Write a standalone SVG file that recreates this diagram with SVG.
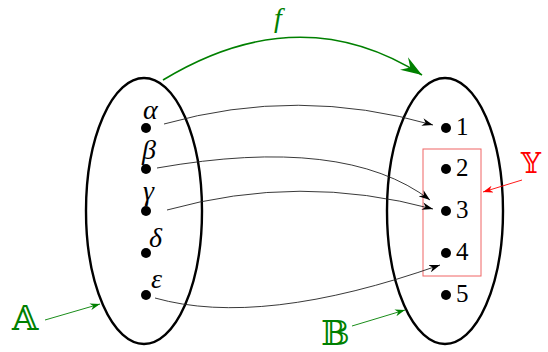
<svg xmlns="http://www.w3.org/2000/svg" width="548" height="352" viewBox="0 0 548 352">
<style>
.set{fill:none;stroke:#000;stroke-width:2.4}
.dot{fill:#000}
.map{fill:none;stroke:#222;stroke-width:0.9}
.g{fill:none;stroke:#008000}
.bb{font-family:'DejaVu Serif','DejaVu Sans',serif}
</style>
<defs>
<marker id="ah" viewBox="0 0 10 7" refX="10" refY="3.5" markerWidth="11" markerHeight="8" markerUnits="userSpaceOnUse" orient="auto">
<path d="M0,0 L10,3.5 L0,7 L3,3.5 z" fill="#000"/>
</marker>
<marker id="ahg" viewBox="0 0 10 7" refX="10" refY="3.5" markerWidth="22" markerHeight="15" markerUnits="userSpaceOnUse" orient="auto">
<path d="M0,0 L10,3.5 L0,7 L3.5,3.5 z" fill="#008000"/>
</marker>
<marker id="ahs" viewBox="0 0 10 7" refX="10" refY="3.5" markerWidth="10" markerHeight="7" markerUnits="userSpaceOnUse" orient="auto">
<path d="M0,0 L10,3.5 L0,7 L3,3.5 z" fill="#008000"/>
</marker>
<marker id="ahr" viewBox="0 0 10 7" refX="10" refY="3.5" markerWidth="10" markerHeight="7" markerUnits="userSpaceOnUse" orient="auto">
<path d="M0,0 L10,3.5 L0,7 L3,3.5 z" fill="#ff0000"/>
</marker>
</defs>
<g id="setA">
<ellipse class="set" cx="144" cy="211" rx="58" ry="133"/>
<circle class="dot" cx="146" cy="128" r="5"/>
<circle class="dot" cx="146" cy="169" r="5"/>
<circle class="dot" cx="146" cy="211" r="5"/>
<circle class="dot" cx="146" cy="253" r="5"/>
<circle class="dot" cx="146" cy="295" r="5"/>
<g font-family="Liberation Serif, DejaVu Serif, serif" font-style="italic" font-size="28" fill="#000">
<text x="143" y="119">α</text>
<text x="142" y="159">β</text>
<text x="143" y="200">γ</text>
<text x="149" y="247">δ</text>
<text x="151" y="288">ε</text>
</g>
</g>
<g id="setB">
<ellipse class="set" cx="445" cy="211" rx="58" ry="133"/>
<circle class="dot" cx="446" cy="128" r="5"/>
<circle class="dot" cx="446" cy="169" r="5"/>
<circle class="dot" cx="446" cy="211" r="5"/>
<circle class="dot" cx="446" cy="253" r="5"/>
<circle class="dot" cx="446" cy="295" r="5"/>
<g font-family="Liberation Serif, DejaVu Serif, serif" font-size="25" fill="#000">
<text x="456" y="135">1</text>
<text x="456" y="176">2</text>
<text x="456" y="218">3</text>
<text x="456" y="260">4</text>
<text x="456" y="302">5</text>
</g>
</g>
<g id="subsetY">
<rect x="423" y="149" width="58" height="127" fill="none" stroke="#f06464" stroke-width="1"/>
</g>
<g id="labels">
<text class="bb" x="12" y="330" font-size="34" fill="#008000">𝔸</text>
<text class="bb" x="321" y="345" font-size="34" fill="#008000">𝔹</text>
<text class="bb" x="521" y="173" font-size="28" fill="#ff0000">𝕐</text>
<text x="274" y="27" font-family="Liberation Serif, DejaVu Serif, serif" font-style="italic" font-size="28" fill="#008000">f</text>
</g>
<g id="connectors">
<path class="map" d="M164,124 Q298,86 433,125" marker-end="url(#ah)"/>
<path class="map" d="M157,168 Q345,135 430,200" marker-end="url(#ah)"/>
<path class="map" d="M167,210 Q300,173 433,209" marker-end="url(#ah)"/>
<path class="map" d="M155,298 Q261,328 440,265" marker-end="url(#ah)"/>
<path class="g" stroke-width="1.6" d="M163,80 Q300,-3 422,75" marker-end="url(#ahg)"/>
<path class="g" stroke-width="0.9" d="M45,320 L100,304" marker-end="url(#ahs)"/>
<path class="g" stroke-width="0.9" d="M352,326 L405,310" marker-end="url(#ahs)"/>
<path fill="none" stroke="#ff0000" stroke-width="0.9" d="M522,180 L483,192" marker-end="url(#ahr)"/>
</g>
</svg>
